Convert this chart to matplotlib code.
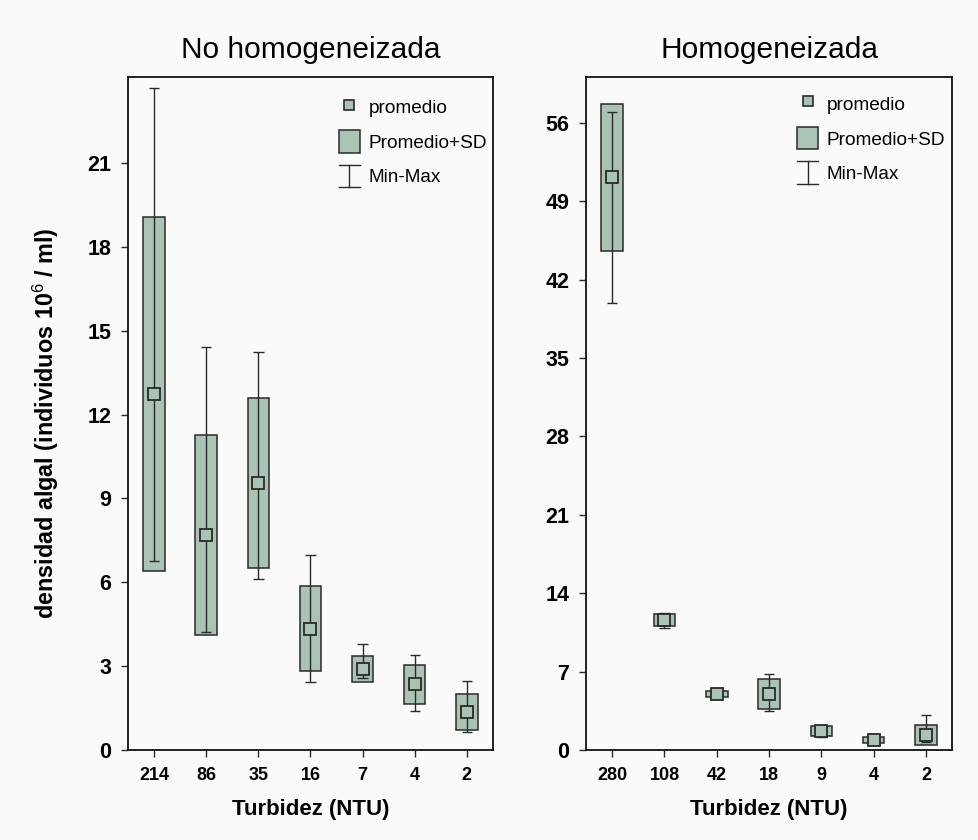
import matplotlib
matplotlib.use("Agg")
import matplotlib.pyplot as plt
from matplotlib.lines import Line2D
from matplotlib.patches import Rectangle
from matplotlib.legend_handler import HandlerBase

plt.rcParams['font.family'] = ['Liberation Sans', 'DejaVu Sans']
plt.rcParams['mathtext.fontset'] = 'custom'
plt.rcParams['mathtext.rm'] = 'Liberation Sans'
plt.rcParams['mathtext.bf'] = 'Liberation Sans:bold'

# --- data: algal density (10^6 ind/ml) per turbidity level ---
labels_nh = ['214', '86', '35', '16', '7', '4', '2']
mean_nh = [12.72, 7.69, 9.54, 4.33, 2.90, 2.35, 1.36]
sd_nh = [6.33, 3.56, 3.04, 1.52, 0.47, 0.69, 0.63]
min_nh = [6.75, 4.23, 6.11, 2.44, 2.57, 1.39, 0.64]
max_nh = [23.67, 14.41, 14.25, 6.99, 3.80, 3.40, 2.46]

labels_h = ['280', '108', '42', '18', '9', '4', '2']
mean_h = [51.15, 11.63, 4.98, 4.98, 1.70, 0.88, 1.37]
sd_h = [6.55, 0.55, 0.27, 1.34, 0.45, 0.24, 0.90]
min_h = [39.9, 10.9, 4.62, 3.49, 1.19, 0.70, 0.69]
max_h = [57.0, 12.2, 5.42, 6.82, 2.08, 1.05, 3.13]

yticks_nh = [0, 3, 6, 9, 12, 15, 18, 21]
yticks_h = [0, 7, 14, 21, 28, 35, 42, 49, 56]

FILL = '#a9c3b5'
EDGE = '#2a2a2a'
BG = '#fafafa'
BOX_W = 0.41
CAP_W = 0.20


class RectHandler(HandlerBase):
    def create_artists(self, legend, orig_handle, xdescent, ydescent,
                       width, height, fontsize, trans):
        return [Rectangle((-xdescent, -ydescent), width, height,
                          facecolor=FILL, edgecolor=EDGE, lw=1.1,
                          transform=trans)]


class MinMaxHandler(HandlerBase):
    def create_artists(self, legend, orig_handle, xdescent, ydescent,
                       width, height, fontsize, trans):
        x0, y0 = -xdescent, -ydescent
        xc = x0 + width / 2
        kw = dict(color=EDGE, lw=1.0, transform=trans)
        return [Line2D([xc, xc], [y0, y0 + height], **kw),
                Line2D([x0, x0 + width], [y0, y0], **kw),
                Line2D([x0, x0 + width], [y0 + height, y0 + height], **kw)]


def draw_panel(ax, labels, mean, sd, vmin, vmax, yticks, ytop, title, leg_anchor):
    x = list(range(len(labels)))
    lo = [m - s for m, s in zip(mean, sd)]
    hi = [2 * s for s in sd]
    ax.bar(x, hi, bottom=lo, width=BOX_W, color=FILL, edgecolor=EDGE,
           linewidth=1.1, zorder=2)
    ax.vlines(x, vmin, vmax, color=EDGE, lw=1.0, zorder=3)
    ax.hlines(vmax, [xi - CAP_W / 2 for xi in x], [xi + CAP_W / 2 for xi in x],
              color=EDGE, lw=1.0, zorder=3)
    ax.hlines(vmin, [xi - CAP_W / 2 for xi in x], [xi + CAP_W / 2 for xi in x],
              color=EDGE, lw=1.0, zorder=3)
    ax.plot(x, mean, ls='none', marker='s', ms=8, mfc=FILL, mec=EDGE,
            mew=1.3, zorder=4)

    ax.set_xlim(-0.5, len(labels) - 0.5)
    ax.set_ylim(0, ytop)
    ax.set_xticks(x)
    ax.set_xticklabels(labels, fontsize=13, fontweight='bold')
    ax.set_yticks(yticks)
    ax.set_yticklabels([str(t) for t in yticks], fontsize=15.5, fontweight='bold')
    ax.tick_params(axis='both', direction='out', length=5, width=1.0, color=EDGE)
    ax.tick_params(axis='y', pad=7)
    ax.tick_params(axis='x', pad=7)
    for sp in ax.spines.values():
        sp.set_linewidth(1.3)
        sp.set_color('#111111')
    ax.set_facecolor(BG)
    ax.set_xlabel('Turbidez (NTU)', fontsize=16, fontweight='bold', labelpad=11)
    ax.set_title(title, fontsize=21.5, pad=14)

    h_mean = Line2D([], [], ls='none', marker='s', ms=7, mfc=FILL, mec=EDGE, mew=1.2)
    h_box = Rectangle((0, 0), 1, 1)
    h_mm = Line2D([], [])
    ax.legend([h_mean, h_box, h_mm], ['promedio', 'Promedio+SD', 'Min-Max'],
              handler_map={Rectangle: RectHandler(), h_mm: MinMaxHandler()},
              loc='upper left', bbox_to_anchor=leg_anchor, frameon=False,
              borderpad=0, borderaxespad=0, fontsize=13.7,
              handlelength=1.1, handleheight=1.45, handletextpad=0.45,
              labelspacing=0.62)


fig = plt.figure(figsize=(9.79, 8.40), dpi=100, facecolor=BG)
ax1 = fig.add_axes([0.1307, 0.1071, 0.3728, 0.8012])
ax2 = fig.add_axes([0.5986, 0.1071, 0.3740, 0.8012])

draw_panel(ax1, labels_nh, mean_nh, sd_nh, min_nh, max_nh, yticks_nh, 24.07,
           'No homogeneizada', (0.578, 0.972))
draw_panel(ax2, labels_h, mean_h, sd_h, min_h, max_h, yticks_h, 60.1,
           'Homogeneizada', (0.5765, 0.977))

ax1.set_ylabel(r'densidad algal (individuos 10$^{6}$ / ml)', fontsize=16.8,
               fontweight='bold')
ax1.yaxis.set_label_coords(-0.183, 0.486)

fig.savefig('out.png', dpi=100, facecolor=BG)
